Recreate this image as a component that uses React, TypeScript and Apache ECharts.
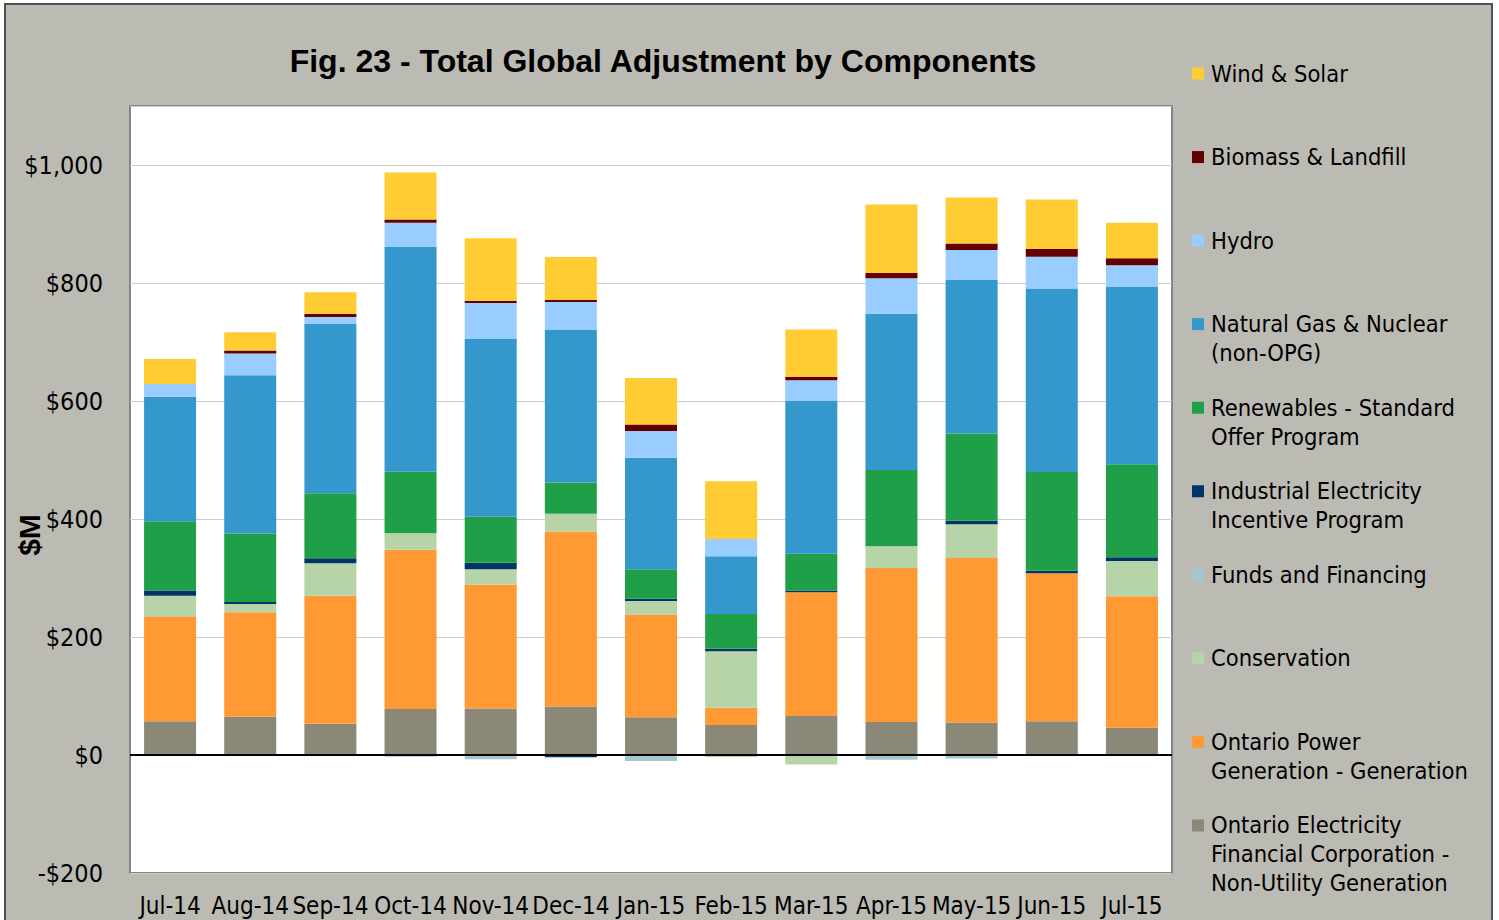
import { useEffect, useRef } from "react";
import * as echarts from "echarts";

const months = ["Jul-14", "Aug-14", "Sep-14", "Oct-14", "Nov-14", "Dec-14", "Jan-15", "Feb-15", "Mar-15", "Apr-15", "May-15", "Jun-15", "Jul-15"];

const oefcNug = [57, 65, 53, 78, 79, 82, 64, 51, 66, 56, 55, 57, 46];
const opgGeneration = [178, 177, 217, 270, 210, 297, 174, 29, 210, 261, 279, 251, 223];
const conservation = [35, 14, 55, 28, 26, 30, 23, 96, -16, 37, 57, 0, 60];
const fundsFinancing = [0, 0, 0, -3, -7, 0, -10, 0, 0, -8, -6, 0, 0];
const ieip = [9, 3.5, 8.5, 0, 11, -4, 4, 4, 3, 0, 6, 4.5, 6];
const renewablesSop = [117, 116, 110, 104, 78, 53, 50, 59, 62, 129, 148, 167, 158];
const gasNuclear = [211, 268, 288, 381, 302, 259, 189, 98, 260, 265, 260, 311, 301];
const hydro = [22, 37, 11, 41, 60, 47, 45, 29, 34, 60, 51, 54, 36];
const biomassLandfill = [0, 5, 5, 5.5, 4, 3, 11, -2, 6, 9, 11, 13, 12];
const windSolar = [42, 31, 37, 80, 106, 73, 79, 98, 80, 116, 78, 84, 60];

// bottom-to-top stacking order
const seriesNames = [
  "Ontario Electricity Financial Corporation - Non-Utility Generation",
  "Ontario Power Generation - Generation",
  "Conservation",
  "Funds and Financing",
  "Industrial Electricity Incentive Program",
  "Renewables - Standard Offer Program",
  "Natural Gas & Nuclear (non-OPG)",
  "Hydro",
  "Biomass & Landfill",
  "Wind & Solar",
];
const seriesLegendLabels = [
  "Ontario Electricity\nFinancial Corporation -\nNon-Utility Generation",
  "Ontario Power\nGeneration - Generation",
  "Conservation",
  "Funds and Financing",
  "Industrial Electricity\nIncentive Program",
  "Renewables - Standard\nOffer Program",
  "Natural Gas & Nuclear\n(non-OPG)",
  "Hydro",
  "Biomass & Landfill",
  "Wind & Solar",
];
const seriesColors = ["#8B8878", "#FF9933", "#B7D4A8", "#A3C7CC", "#003366", "#1FA048", "#3498CC", "#99CCFF", "#660000", "#FFCC33"];
const seriesValues = [oefcNug, opgGeneration, conservation, fundsFinancing, ieip, renewablesSop, gasNuclear, hydro, biomassLandfill, windSolar];

const yMin = -200;
const yMax = 1100;
const yStep = 200;

const chartTitle = "Fig. 23 - Total Global Adjustment by Components";
const yAxisTitle = "$M";

const FONT = "'DejaVu Sans Condensed', 'DejaVu Sans', sans-serif";

export default function App() {
  const ref = useRef<HTMLDivElement>(null);

  useEffect(() => {
    if (!ref.current) return;
    const chart = echarts.init(ref.current, undefined, { renderer: "svg" });

    const series: any[] = seriesNames.map((name, i) => ({
      name,
      type: "bar",
      stack: "total",
      barWidth: 52,
      data: seriesValues[i],
      itemStyle: { color: seriesColors[i] },
      emphasis: { disabled: true },
    }));
    // zero line
    series[0].markLine = {
      silent: true,
      symbol: "none",
      label: { show: false },
      lineStyle: { color: "#000", width: 2, type: "solid" },
      data: [{ yAxis: 0 }],
    };

    // legend drawn top-to-bottom (reverse of stacking order)
    const legendItems: any[] = [];
    const order = seriesNames.map((_, i) => seriesNames.length - 1 - i);
    order.forEach((si, k) => {
      const cy = 73.5 + k * 83.55;
      legendItems.push({
        type: "rect",
        shape: { x: 1192, y: cy - 6, width: 12, height: 12 },
        style: { fill: seriesColors[si] },
      });
      legendItems.push({
        type: "text",
        x: 1211,
        y: cy - 14.5,
        style: {
          text: seriesLegendLabels[si],
          font: `23.5px ${FONT}`,
          fill: "#000",
          lineHeight: 29,
          verticalAlign: "top",
          align: "left",
        },
      });
    });

    chart.setOption({
      animation: false,
      backgroundColor: "transparent",
      grid: {
        left: 130,
        top: 106,
        width: 1042,
        height: 767,
        show: true,
        backgroundColor: "#ffffff",
        borderColor: "#858585",
        borderWidth: 2,
      },
      xAxis: {
        type: "category",
        data: months,
        axisLine: { show: false, onZero: false },
        axisTick: { show: false },
        axisLabel: {
          interval: 0,
          color: "#000",
          fontFamily: FONT,
          fontSize: 24,
          margin: 21,
        },
      },
      yAxis: {
        type: "value",
        min: yMin,
        max: yMax,
        interval: yStep,
        axisLine: { show: false },
        axisTick: { show: false },
        splitLine: { show: true, lineStyle: { color: "#cccccc", width: 1 } },
        axisLabel: {
          color: "#000",
          fontFamily: FONT,
          fontSize: 25,
          margin: 27,
          formatter: (v: number) => {
            if (v === yMax) return "";
            const s = "$" + Math.abs(v).toLocaleString("en-US");
            return v < 0 ? "-" + s : s;
          },
        },
      },
      series,
      graphic: [
        {
          type: "text",
          x: 663,
          y: 61,
          style: {
            text: chartTitle,
            font: "bold 32px 'Liberation Sans', Arial, sans-serif",
            fill: "#000",
            align: "center",
            verticalAlign: "middle",
          },
        },
        {
          type: "text",
          x: 29,
          y: 535,
          rotation: Math.PI / 2,
          style: {
            text: yAxisTitle,
            font: "bold 30px 'Liberation Sans', Arial, sans-serif",
            fill: "#000",
            align: "center",
            verticalAlign: "middle",
          },
        },
        ...legendItems,
      ],
    });

    return () => chart.dispose();
  }, []);

  return (
    <div style={{ position: "fixed", left: 0, top: 0, width: 1499, height: 920, background: "#ffffff", overflow: "hidden" }}>
      <div
        style={{
          position: "absolute",
          left: 4,
          top: 3,
          width: 1489,
          height: 930,
          background: "#BCBBB3",
          border: "2px solid #505050",
          boxSizing: "border-box",
        }}
      />
      <div ref={ref} style={{ position: "absolute", left: 0, top: 0, width: 1499, height: 920 }} />
    </div>
  );
}
